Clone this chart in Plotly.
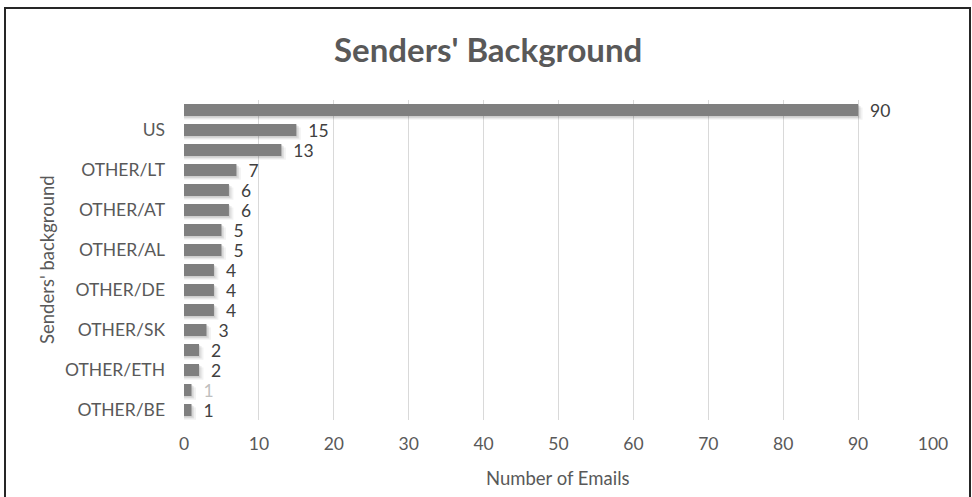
import plotly.graph_objects as go

# Email counts by sender background, top to bottom
categories = [
    "LOCAL", "US", "OTHER/UK", "OTHER/LT", "OTHER/PL", "OTHER/AT",
    "OTHER/HU", "OTHER/AL", "OTHER/FR", "OTHER/DE", "OTHER/IT", "OTHER/SK",
    "OTHER/NL", "OTHER/ETH", "OTHER/ES", "OTHER/BE",
]
emails = [90, 15, 13, 7, 6, 6, 5, 5, 4, 4, 4, 3, 2, 2, 1, 1]
shown_labels = ["US", "OTHER/LT", "OTHER/AT", "OTHER/AL",
                "OTHER/DE", "OTHER/SK", "OTHER/ETH", "OTHER/BE"]

W, H = 972, 497
ML, MR, MT, MB = 184, 39, 100, 77
PW, PH = W - ML - MR, H - MT - MB

FONT = "Lato"
GREY = "#595959"
BAR = "#7f7f7f"
FS = 17.5

label_colors = ["#404040"] * len(emails)
label_colors[-2] = "#bfbfbf"

fig = go.Figure()

# soft drop shadow under each bar
for dx, dy, alpha in [(0.6, 0.18, 0.05), (0.35, 0.11, 0.07), (0.15, 0.06, 0.08)]:
    fig.add_trace(go.Bar(
        x=[v + dx for v in emails], y=categories, orientation="h",
        width=0.62, offset=-0.31 + dy,
        marker=dict(color=f"rgba(0,0,0,{alpha})", line=dict(width=0)),
        hoverinfo="skip", showlegend=False,
    ))

fig.add_trace(go.Bar(
    x=emails, y=categories, orientation="h",
    width=0.6, offset=-0.3,
    marker=dict(color=BAR, line=dict(width=0)),
    text=emails, texttemplate="  %{x}", textposition="outside",
    constraintext="none",
    textfont=dict(family=FONT, size=FS, color=label_colors),
    cliponaxis=False, showlegend=False,
))

def px_x(p):
    return (p - ML) / PW

def px_y(p):
    return (H - MB - p) / PH

fig.update_layout(
    width=W, height=H,
    margin=dict(l=ML, r=MR, t=MT, b=MB),
    paper_bgcolor="white", plot_bgcolor="white",
    barmode="overlay",
    font=dict(family=FONT, color=GREY),
    xaxis=dict(
        range=[0, 100], dtick=10, tick0=0,
        showgrid=True, gridcolor="#d9d9d9", gridwidth=1,
        zeroline=False, showline=False, ticks="",
        tickfont=dict(family=FONT, size=FS, color=GREY),
        ticklabelstandoff=11, fixedrange=True,
    ),
    yaxis=dict(
        type="category", categoryorder="array", categoryarray=categories,
        autorange="reversed",
        tickmode="array", tickvals=shown_labels, ticktext=shown_labels,
        showgrid=False, zeroline=False, showline=False, ticks="",
        tickfont=dict(family=FONT, size=FS, color=GREY),
        ticklabelstandoff=18, fixedrange=True,
    ),
    annotations=[
        dict(text="<b>Senders' Background</b>", xref="paper", yref="paper",
             x=px_x(488), y=px_y(49), xanchor="center", yanchor="middle",
             showarrow=False, font=dict(family=FONT, size=33, color=GREY)),
        dict(text="Number of Emails", xref="paper", yref="paper",
             x=px_x(558), y=px_y(478), xanchor="center", yanchor="middle",
             showarrow=False, font=dict(family=FONT, size=18.5, color=GREY)),
        dict(text="Senders' background", xref="paper", yref="paper",
             x=px_x(47), y=px_y(260), xanchor="center", yanchor="middle",
             textangle=-90, showarrow=False,
             font=dict(family=FONT, size=18.5, color=GREY)),
    ],
    shapes=[
        dict(type="rect", xref="paper", yref="paper",
             x0=px_x(5), x1=px_x(970), y0=px_y(520), y1=px_y(8),
             line=dict(color="#262626", width=2), layer="above"),
    ],
)

fig.write_html("out.html")
